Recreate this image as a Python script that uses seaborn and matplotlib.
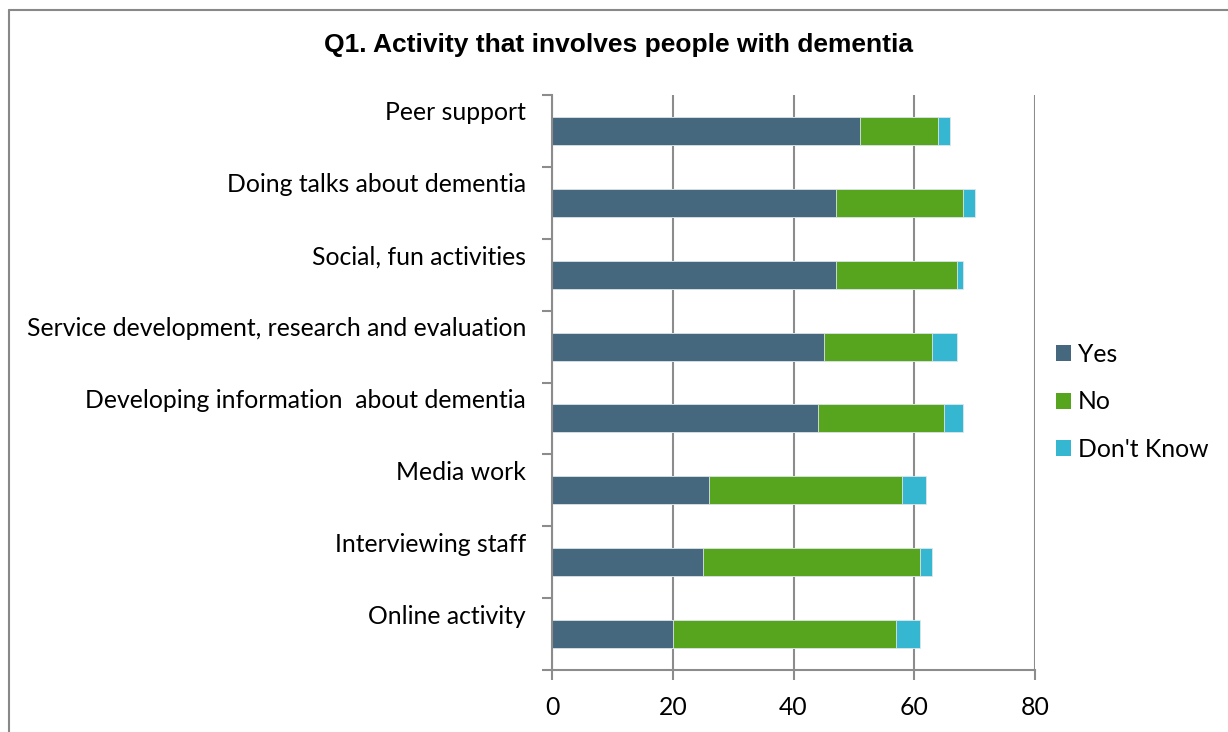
import matplotlib
matplotlib.use('Agg')
import matplotlib.pyplot as plt
from matplotlib.patches import Patch
from matplotlib.lines import Line2D
import numpy as np
import pandas as pd
import seaborn as sns

# Chart data
activities = ['Peer support', 'Doing talks about dementia', 'Social, fun activities',
              'Service development, research and evaluation',
              'Developing information  about dementia', 'Media work',
              'Interviewing staff', 'Online activity']
yes = [51, 47, 47, 45, 44, 26, 25, 20]
no = [13, 21, 20, 18, 21, 32, 36, 37]
dont_know = [2, 2, 1, 4, 3, 4, 2, 4]
x_ticks = [0, 20, 40, 60, 80]

colors = {'Yes': '#46687e', 'No': '#57a51e', "Don't Know": '#35b6d1'}

df = pd.DataFrame({'Activity': activities, 'Yes': yes, 'No': no, "Don't Know": dont_know})
df['YesNo'] = df['Yes'] + df['No']
df['Total'] = df['YesNo'] + df["Don't Know"]

sns.set_theme(style='white')
plt.rcParams['font.family'] = ['Lato', 'DejaVu Sans']
plt.rcParams['text.color'] = 'black'

fs = 17.8

fig = plt.figure(figsize=(12.28, 7.32), dpi=100)
ax = fig.add_axes([552 / 1228, 1 - 670 / 732, (1035 - 552) / 1228, (670 - 95) / 732])

# Stacked bars: draw cumulative totals from back to front
for col, key in [('Total', "Don't Know"), ('YesNo', 'No'), ('Yes', 'Yes')]:
    sns.barplot(data=df, y='Activity', x=col, order=activities, orient='h',
                color=colors[key], width=0.39, saturation=1, ax=ax,
                edgecolor='#dfe6ea', linewidth=0.6)

grid_col = '#8c8c8c'
ax.set_xlim(0, 80)
ax.set_ylim(len(activities) - 0.5, -0.5)
ax.set_xticks(x_ticks)
ax.set_xticklabels([str(t) for t in x_ticks], fontsize=fs, color='black')
ax.xaxis.grid(True, color=grid_col, linewidth=1.5)
ax.set_axisbelow(True)
ax.set_yticks(np.arange(-0.5, len(activities) + 0.5, 1))
ax.set_yticklabels([])
ax.tick_params(axis='y', length=7, width=1.5, color=grid_col, left=True)
ax.tick_params(axis='x', length=7, width=1.5, color=grid_col, bottom=True, pad=12)
ax.set_xlabel('')
ax.set_ylabel('')
for side in ['top', 'right']:
    ax.spines[side].set_visible(False)
for side in ['left', 'bottom']:
    ax.spines[side].set_color(grid_col)
    ax.spines[side].set_linewidth(1.5)

# Category labels sit above each bar
for i, name in enumerate(activities):
    ax.annotate(name, xy=(0, i), xycoords=('axes fraction', 'data'),
                xytext=(-26, 18), textcoords='offset pixels',
                ha='right', va='center', fontsize=fs, color='black')

fig.text(619 / 1228, 1 - 45 / 732, 'Q1. Activity that involves people with dementia',
         ha='center', va='center', fontsize=19, fontweight='bold', color='black',
         family=['Liberation Sans', 'DejaVu Sans'])

handles = [Patch(facecolor=colors[k], edgecolor='none', label=k) for k in colors]
fig.legend(handles=handles, loc='upper left', bbox_to_anchor=(1056 / 1228, 1 - 343 / 732),
           frameon=False, fontsize=fs, handlelength=0.6, handleheight=0.6,
           handletextpad=0.3, labelspacing=0.99, borderaxespad=0, borderpad=0)

# Outer chart border (top and left edges)
fig.add_artist(Line2D([8.5 / 1228, 1.01], [1 - 9.5 / 732, 1 - 9.5 / 732],
                      transform=fig.transFigure, color='#888888', linewidth=1.5))
fig.add_artist(Line2D([8.5 / 1228, 8.5 / 1228], [-0.01, 1 - 9.5 / 732],
                      transform=fig.transFigure, color='#888888', linewidth=1.5))

fig.savefig('out.png', dpi=100, facecolor='white')
